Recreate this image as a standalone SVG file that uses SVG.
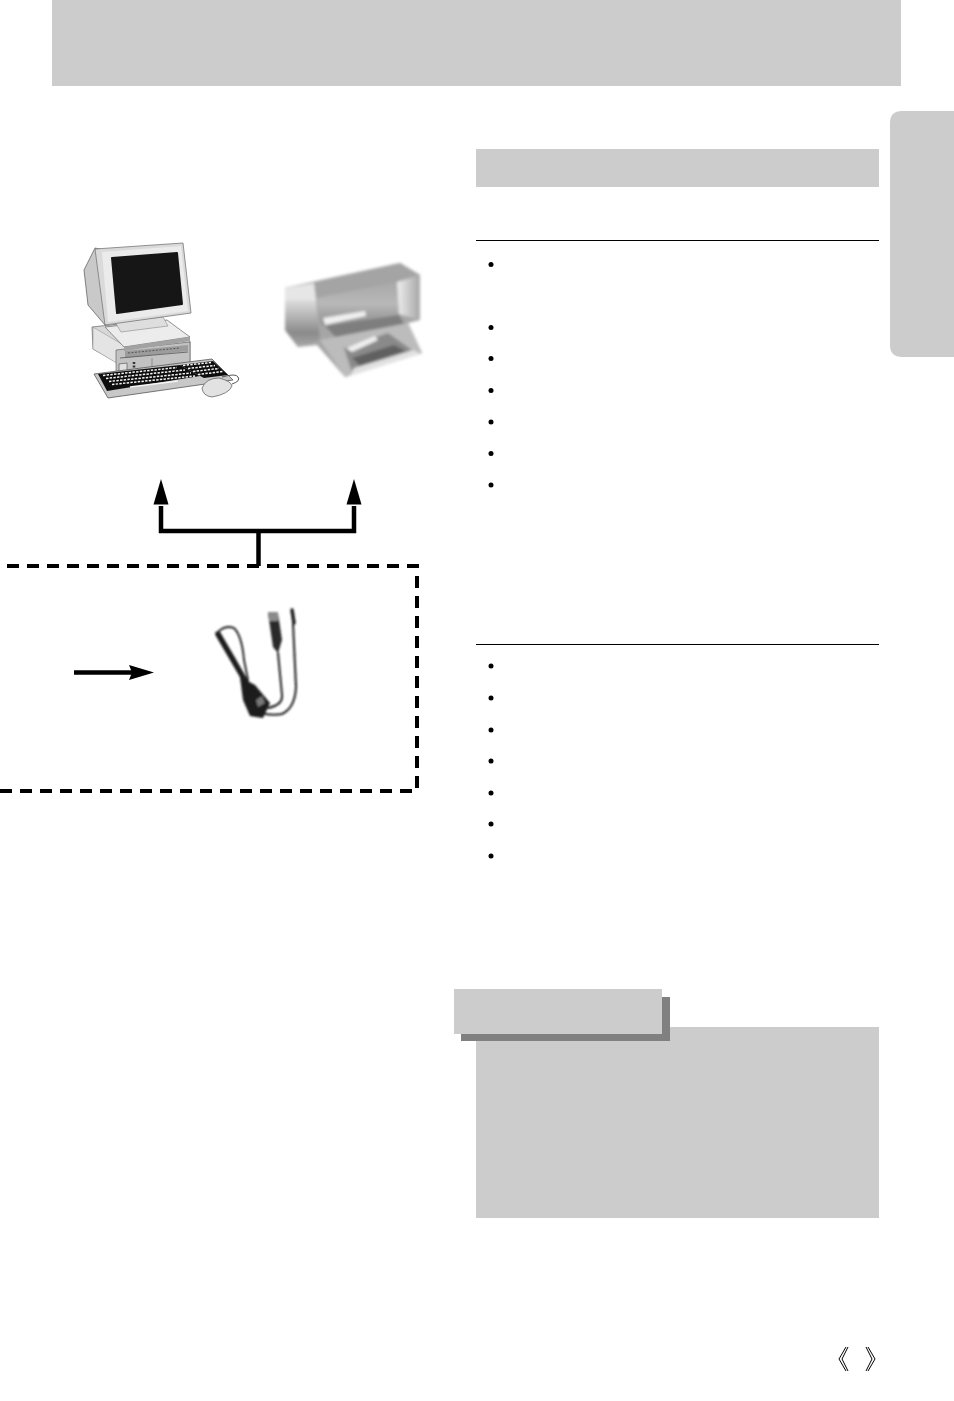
<svg xmlns="http://www.w3.org/2000/svg" width="954" height="1401" viewBox="0 0 954 1401">
<style>
.panel{fill:#cccccc}
.rule{stroke:#000;stroke-width:1;fill:none}
.bullet{fill:#000}
.wire{stroke:#000;stroke-width:4.5;fill:none}
.dash{stroke:#000;stroke-width:4;fill:none;stroke-dasharray:12 8}
.chev{stroke:#000;stroke-width:1;fill:none}
.keys{stroke:#f4f4f4;stroke-width:1.5;fill:none;stroke-dasharray:2.4 1.3}
.cb{fill:none;stroke:#1c1c1c;stroke-linecap:round;stroke-linejoin:round}
</style>
<defs>
<filter id="soft" x="-10%" y="-10%" width="120%" height="120%"><feGaussianBlur stdDeviation="1.8"/></filter>
<filter id="crisp" x="-10%" y="-10%" width="120%" height="120%"><feGaussianBlur stdDeviation="0.35"/></filter>
<filter id="cableBlur" x="-10%" y="-10%" width="120%" height="120%"><feGaussianBlur stdDeviation="0.9"/></filter>
<linearGradient id="pSide" x1="0" y1="0" x2="0" y2="1"><stop offset="0" stop-color="#dedede"/><stop offset=".35" stop-color="#b4b4b4"/><stop offset=".7" stop-color="#8a8a8a"/><stop offset="1" stop-color="#a8a8a8"/></linearGradient>
<linearGradient id="pFront" x1="0" y1="0" x2="0" y2="1"><stop offset="0" stop-color="#a8a8a8"/><stop offset=".5" stop-color="#b8b8b8"/><stop offset="1" stop-color="#8c8c8c"/></linearGradient>
<linearGradient id="pRight" x1="0" y1="0" x2="1" y2="0"><stop offset="0" stop-color="#eeeeee"/><stop offset="1" stop-color="#a6a6a6"/></linearGradient>
</defs>

<g id="header"><rect class="panel" x="52" y="0" width="849" height="86"/></g>
<g id="side-tab"><path class="panel" d="M954 111H902Q890 111 890 123V345Q890 357 902 357H954Z"/></g>
<g id="section-bar"><rect class="panel" x="476" y="149" width="403" height="38"/></g>

<g id="list-one">
<line class="rule" x1="476" y1="240.500" x2="879" y2="240.500"/>
<circle class="bullet" cx="491" cy="264.500" r="2.500"/>
<circle class="bullet" cx="491" cy="327.500" r="2.500"/>
<circle class="bullet" cx="491" cy="358.500" r="2.500"/>
<circle class="bullet" cx="491" cy="390.500" r="2.500"/>
<circle class="bullet" cx="491" cy="422" r="2.500"/>
<circle class="bullet" cx="491" cy="453.500" r="2.500"/>
<circle class="bullet" cx="491" cy="485" r="2.500"/>
</g>
<g id="list-two">
<line class="rule" x1="476" y1="644.500" x2="879" y2="644.500"/>
<circle class="bullet" cx="491" cy="666" r="2.500"/>
<circle class="bullet" cx="491" cy="698" r="2.500"/>
<circle class="bullet" cx="491" cy="730" r="2.500"/>
<circle class="bullet" cx="491" cy="761" r="2.500"/>
<circle class="bullet" cx="491" cy="793" r="2.500"/>
<circle class="bullet" cx="491" cy="824" r="2.500"/>
<circle class="bullet" cx="491" cy="856" r="2.500"/>
</g>

<g id="note">
<rect class="panel" x="476" y="1027" width="403" height="191"/>
<rect x="461" y="997" width="209" height="44" fill="#808080"/>
<rect class="panel" x="454" y="989" width="208" height="45"/>
</g>

<g id="computer">
<g filter="url(#crisp)">
<path d="M92 327L147 321L190 341L190 370L145 378L93 349Z" fill="#d8d8d8" stroke="#666" stroke-width=".7"/>
<path d="M93 327L93 349L125 368L125 346Z" fill="#e4e4e4" stroke="#888" stroke-width=".5"/>
<path d="M116 350L190 342L190 368L116 378Z" fill="#c2c2c2" stroke="#555" stroke-width=".6"/>
<path d="M125 351L188 345L188 351L125 358Z" fill="#9c9c9c"/>
<path d="M128 353L180 348" stroke="#444" stroke-width=".8" stroke-dasharray="2 1.500"/>
<path d="M120 358L188 352" stroke="#555" stroke-width=".8"/>
<path d="M119 364L127 363L127 371L119 372Z" fill="#e0e0e0" stroke="#444" stroke-width=".6"/>
<path d="M134 362V370" stroke="#333" stroke-width="2.500" stroke-dasharray="2 1.500"/>
<path d="M152 358V367" stroke="#777" stroke-width=".7"/>
<path d="M105 327L167 320L190 337L124 347Z" fill="#ececec" stroke="#666" stroke-width=".7"/>
<path d="M124 347L190 337L190 341L124 351Z" fill="#a2a2a2"/>
<path d="M115 322L163 317L168 326L121 332Z" fill="#dedede" stroke="#777" stroke-width=".5"/>
<path d="M95 248L84 270L88 305L105 325L112 322L104 250Z" fill="#c9c9c9" stroke="#555" stroke-width=".7"/>
<path d="M95 249L183 243L191 313L105 325Z" fill="#dadada" stroke="#777" stroke-width=".8"/>
<path d="M102 252L181 246L188 311L108 322Z" fill="#ebebeb"/>
<path d="M112 258L177 253L182 304L117 313Z" fill="#161616" stroke="#161616" stroke-width="2" stroke-linejoin="round"/>
<path d="M94 374L212 359L233 380L108 398Z" fill="#c8c8c8" stroke="#555" stroke-width=".8"/>
<path d="M98 374L180 365L200 376L107 391Z" fill="#111"/>
<path d="M180 365L213 361L228 375L204 378Z" fill="#111"/>
<path class="keys" d="M103 375.500L177 367.500M106 378.500L185 370M109 381.500L191 373M112 384.500L195 376"/>
<path class="keys" d="M183 365.500L211 362.500M188 368.500L215 365.500M193 371.500L219 368.500M198 374.500L223 371.500"/>
<path d="M130 387L178 381" stroke="#f4f4f4" stroke-width="1.600"/>
<path d="M222 377Q236 373 238 377Q241 381 232 384" fill="none" stroke="#444" stroke-width=".9"/>
<path d="M202 388Q206 378 219 378Q231 381 232 386Q229 394 212 397Q203 396 202 388Z" fill="#e2e2e2" stroke="#666" stroke-width=".8"/>
</g>
</g>

<g id="printer">
<g filter="url(#soft)">
<path d="M285 288L400 263L420 275L420 320L408 323L422 353L345 377L317 345L298 347L285 330Z" fill="#a6a6a6"/>
<path d="M285 288L400 263L420 275L397 282L315 298Z" fill="#a4a4a4"/>
<path d="M285 288L314 283L316 300L297 308L285 300Z" fill="#e6e6e6"/>
<path d="M285 300L316 300L320 340L298 347L285 330Z" fill="url(#pSide)"/>
<path d="M316 298L397 282L399 315L322 326Z" fill="url(#pFront)"/>
<path d="M397 282L420 275L420 320L399 314Z" fill="url(#pRight)"/>
<path d="M323 318L365 311L366 316L325 325Z" fill="#f0f0f0"/>
<path d="M325 326L399 315L405 325L340 342Z" fill="#7e7e7e"/>
<path d="M320 340L408 323L422 353L345 377Z" fill="#bcbcbc"/>
<path d="M344 348L388 333L412 350L352 372Z" fill="#8a8a8a"/>
<path d="M346 348L375 336L378 340L352 352Z" fill="#efefef"/>
<path d="M352 358L394 345L406 351L360 366Z" fill="#606060"/>
<path d="M354 368L414 350L420 354L350 376Z" fill="#e2e2e2"/>
</g>
</g>

<g id="connectors">
<path class="wire" d="M161 506V531H354V506"/>
<path class="wire" d="M258.500 531V566"/>
<path d="M161 479L168.500 504.500H153.500Z" fill="#000"/>
<path d="M354 479L361.500 504.500H346.500Z" fill="#000"/>
<line class="wire" x1="74" y1="672.500" x2="132" y2="672.500"/>
<path d="M154 672.500L129 665L132 672.500L129 680Z" fill="#000"/>
</g>

<g id="dashed-box">
<path class="dash" d="M7 566H417V791H0"/>
</g>

<g id="cable">
<g filter="url(#cableBlur)">
<path class="cb" stroke-width="5.500" d="M218 634L232 658L247 684"/>
<path class="cb" stroke-width="1.800" d="M219 631Q226 625 234 628Q242 636 244 660L248 680"/>
<path d="M240 677L255 685L270 703L263 718L250 716L243 700Z" fill="#1a1a1a"/>
<path d="M256 700L262 696L265 703L258 707Z" fill="#777"/>
<path class="cb" stroke-width="2" d="M278 653L282 695Q283 705 268 708"/>
<path class="cb" stroke-width="2" d="M293 623L296 687Q295 708 282 714Q272 716 260 713"/>
<path d="M268 613L278 613L282 640L278 653L273 647Z" fill="#2a2a2a"/>
<path d="M268 612H278V621L269 621Z" fill="#8a8a8a"/>
<path class="cb" stroke-width="3.500" stroke="#333" d="M292 610L294 623"/>
</g>
</g>

<g id="page-marks">
<path class="chev" d="M846 1347L839 1359L846 1371M848 1347L842 1359L848 1371"/>
<path class="chev" d="M866 1347L872 1359L866 1371M868 1347L875 1359L868 1371"/>
</g>
</svg>
